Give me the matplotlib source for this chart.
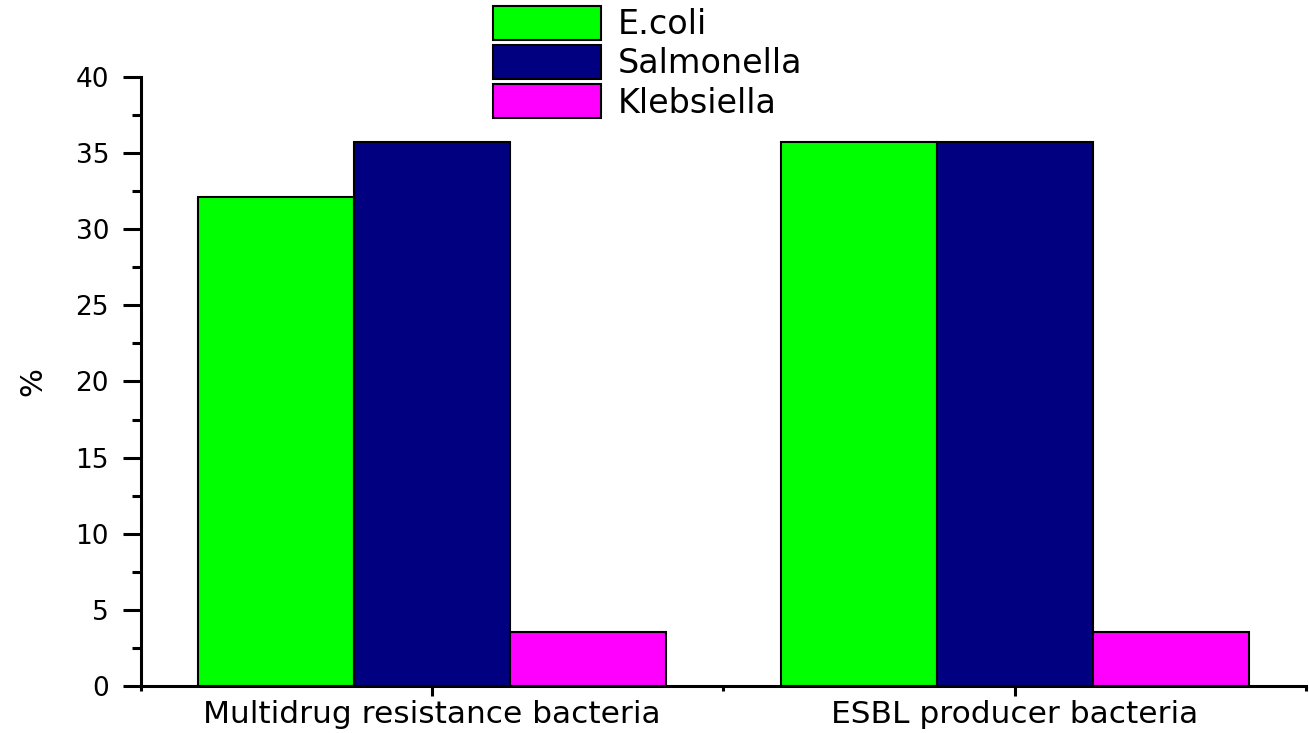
import matplotlib.pyplot as plt
import numpy as np

# values (percent)
categories = ["Multidrug resistance bacteria", "ESBL producer bacteria"]
species = ["E.coli", "Salmonella", "Klebsiella"]
ecoli = [32.14, 35.71]
salmonella = [35.71, 35.71]
klebsiella = [3.57, 3.57]
colors = ["#00ff00", "#000080", "#ff00ff"]

plt.rcParams["font.family"] = ["DejaVu Sans"]

fig = plt.figure(figsize=(13.09, 7.33), dpi=100)
ax = fig.add_axes([0.1077, 0.0641, 0.8900, 0.8309])

x = np.arange(1, len(categories) + 1)
width = 0.268
handles = []
for i, (vals, color) in enumerate(zip([ecoli, salmonella, klebsiella], colors)):
    bars = ax.bar(x + (i - 1) * width, vals, width, color=color, edgecolor="black",
                  linewidth=1.5, label=species[i])
    handles.append(bars)

ax.set_xlim(0.5, 2.5)
ax.set_ylim(0, 40)
ax.set_xticks(x)
ax.set_xticklabels(categories, fontsize=22.5)
ax.set_xticks([0.5, 1.5, 2.5], minor=True)
ax.set_yticks(np.arange(0, 41, 5))
ax.set_yticks(np.arange(2.5, 40, 5), minor=True)
ax.set_ylabel("%", fontsize=22, labelpad=20)

for side in ["top", "right"]:
    ax.spines[side].set_visible(False)
for side in ["left", "bottom"]:
    ax.spines[side].set_linewidth(2.2)

ax.tick_params(axis="y", which="major", direction="out", length=13, width=2.2, labelsize=19, pad=10)
ax.tick_params(axis="y", which="minor", direction="out", length=6.5, width=2.2)
ax.tick_params(axis="x", which="major", direction="out", length=7, width=2.2, pad=3)
ax.tick_params(axis="x", which="minor", direction="out", length=3.5, width=2.2)

leg = fig.legend(handles=handles, loc="upper left", bbox_to_anchor=(0.377, 0.992),
                 frameon=False, fontsize=24, handlelength=3.24, handleheight=1.19,
                 labelspacing=0.12, handletextpad=0.48, borderpad=0, borderaxespad=0)

fig.savefig("out.png", dpi=100)
